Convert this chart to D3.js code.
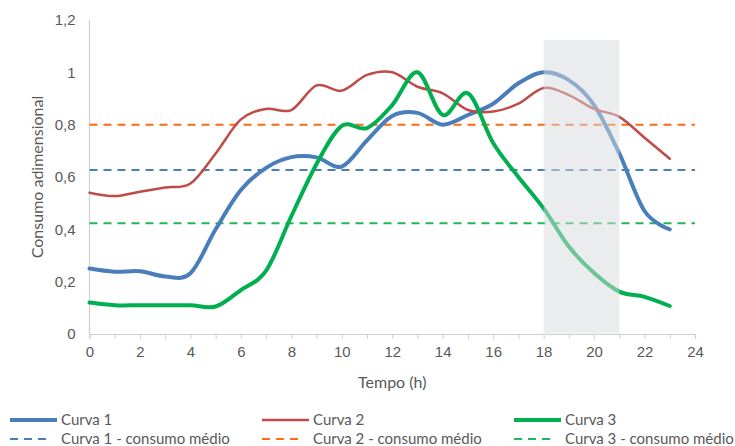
<!DOCTYPE html>
<html>
<head>
<meta charset="utf-8">
<script src="https://cdn.jsdelivr.net/npm/d3@7/dist/d3.min.js"></script>
<style>
  html, body { margin: 0; padding: 0; background: #fff; }
  svg { display: block; font-family: Lato, "Liberation Sans", sans-serif; }
</style>
</head>
<body>
<svg id="chart" width="735" height="446"></svg>
<script>
// Hourly samples (h = 0..23)
const hours = d3.range(0, 24);
const curva1 = [0.25, 0.238, 0.24, 0.22, 0.232, 0.40, 0.55, 0.635, 0.676, 0.675, 0.64, 0.74, 0.833, 0.845, 0.80, 0.837, 0.88, 0.958, 1.0, 0.97, 0.875, 0.69, 0.47, 0.40];
const curva2 = [0.54, 0.527, 0.544, 0.56, 0.575, 0.69, 0.82, 0.86, 0.856, 0.95, 0.93, 0.99, 1.0, 0.945, 0.92, 0.856, 0.85, 0.88, 0.94, 0.913, 0.86, 0.83, 0.75, 0.67];
const curva3 = [0.12, 0.11, 0.11, 0.11, 0.11, 0.105, 0.168, 0.242, 0.45, 0.65, 0.795, 0.787, 0.875, 1.0, 0.837, 0.92, 0.73, 0.60, 0.48, 0.334, 0.233, 0.162, 0.142, 0.107];

// Average consumption per curve
const medias = [0.627, 0.80, 0.423];

// Highlighted period (h)
const faixa = [18, 21];
const faixaTopo = 1.123;

const yTicks = [0, 0.2, 0.4, 0.6, 0.8, 1, 1.2];
const yTickLabels = ["0", "0,2", "0,4", "0,6", "0,8", "1", "1,2"];
const xMinorTicks = d3.range(0, 25, 1);

const seriesNames = ["Curva 1", "Curva 2", "Curva 3"];
const mediaNames = ["Curva 1 - consumo médio", "Curva 2 - consumo médio", "Curva 3 - consumo médio"];
const seriesColors = ["#4a7ebb", "#be4b48", "#00b050"];
const seriesWidths = [4, 2.5, 4];
const mediaColors = ["#4a7ebb", "#ff6a13", "#1db954"];

const svg = d3.select("#chart");
const x = d3.scaleLinear().domain([0, 24]).range([89.5, 695]);
const y = d3.scaleLinear().domain([0, 1.2]).range([334, 20]);

const gridColor = "#d0d0d0";
const textColor = "#595959";

// Axes
svg.append("line")
  .attr("x1", x(0)).attr("x2", x(0))
  .attr("y1", y(1.2)).attr("y2", y(0))
  .attr("stroke", gridColor).attr("stroke-width", 1.2);

const xAxis = d3.axisBottom(x)
  .tickValues(xMinorTicks)
  .tickSize(5)
  .tickFormat(d => (d % 2 === 0 ? d : ""));
const gx = svg.append("g")
  .attr("transform", `translate(0,${y(0)})`)
  .call(xAxis);
gx.select(".domain").attr("stroke", gridColor).attr("stroke-width", 1.2);
gx.selectAll(".tick line").attr("stroke", gridColor);
gx.selectAll(".tick text")
  .attr("fill", textColor)
  .attr("font-size", 15)
  .attr("dy", "1em");

const yAxis = d3.axisLeft(y)
  .tickValues(yTicks)
  .tickSize(0)
  .tickPadding(14)
  .tickFormat((d, i) => yTickLabels[i]);
const gy = svg.append("g")
  .attr("transform", `translate(${x(0)},0)`)
  .call(yAxis);
gy.select(".domain").remove();
gy.selectAll(".tick text").attr("fill", textColor).attr("font-size", 15);

// Axis titles
svg.append("text")
  .attr("x", x(12)).attr("y", 388)
  .attr("text-anchor", "middle")
  .attr("fill", textColor).attr("font-size", 16)
  .text("Tempo (h)");
svg.append("text")
  .attr("transform", `translate(43,${y(0.6)}) rotate(-90)`)
  .attr("text-anchor", "middle")
  .attr("fill", textColor).attr("font-size", 16)
  .text("Consumo adimensional");

// Average lines
medias.forEach((m, i) => {
  svg.append("line")
    .attr("x1", x(0)).attr("x2", x(24))
    .attr("y1", y(m)).attr("y2", y(m))
    .attr("stroke", mediaColors[i])
    .attr("stroke-width", 2)
    .attr("stroke-dasharray", "8,6");
});

// Curves
const line = d3.line()
  .x((d, i) => x(hours[i]))
  .y(d => y(d))
  .curve(d3.curveCatmullRom.alpha(0));

[curva1, curva2, curva3].forEach((s, i) => {
  svg.append("path")
    .datum(s)
    .attr("d", line)
    .attr("fill", "none")
    .attr("stroke", seriesColors[i])
    .attr("stroke-width", seriesWidths[i])
    .attr("stroke-linecap", "round")
    .attr("stroke-linejoin", "round");
});

// Highlighted period, translucent over the curves
svg.append("rect")
  .attr("x", x(faixa[0]))
  .attr("width", x(faixa[1]) - x(faixa[0]))
  .attr("y", y(faixaTopo))
  .attr("height", y(0) - y(faixaTopo) - 0.6)
  .attr("fill", "rgb(214,217,221)")
  .attr("fill-opacity", 0.5);

// Legend
const legCols = [10, 262, 514];
const legRows = [420, 439];
seriesNames.forEach((name, i) => {
  const g = svg.append("g");
  g.append("line")
    .attr("x1", legCols[i]).attr("x2", legCols[i] + 47)
    .attr("y1", legRows[0]).attr("y2", legRows[0])
    .attr("stroke", seriesColors[i])
    .attr("stroke-width", seriesWidths[i]);
  g.append("text")
    .attr("x", legCols[i] + 51).attr("y", legRows[0])
    .attr("dy", "0.35em")
    .attr("fill", textColor).attr("font-size", 15)
    .text(name);

  g.append("line")
    .attr("x1", legCols[i]).attr("x2", legCols[i] + 40)
    .attr("y1", legRows[1]).attr("y2", legRows[1])
    .attr("stroke", mediaColors[i])
    .attr("stroke-width", 2)
    .attr("stroke-dasharray", "8,6");
  g.append("text")
    .attr("x", legCols[i] + 51).attr("y", legRows[1])
    .attr("dy", "0.35em")
    .attr("fill", textColor).attr("font-size", 15)
    .text(mediaNames[i]);
});
</script>
</body>
</html>
